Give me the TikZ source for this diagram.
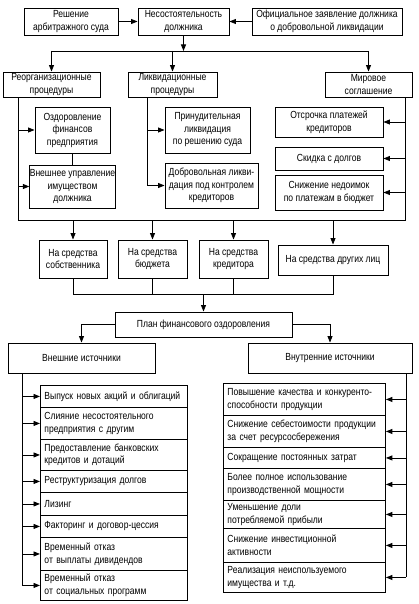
\documentclass[tikz,border=0pt]{standalone}
\usepackage{fontspec}
\setmainfont{Liberation Sans}[FakeStretch=0.83]
\usetikzlibrary{arrows.meta}
\begin{document}
\begin{tikzpicture}[x=1pt,y=-1pt,
  every path/.style={line width=0.9pt},
  box/.style={draw, line width=0.9pt, inner sep=0pt, align=center, font=\fontsize{10.3}{12.5}\selectfont},
  row/.style={draw, line width=0.9pt, inner xsep=4pt, inner ysep=0pt, align=left, anchor=north west, font=\fontsize{10.3}{12.5}\selectfont},
  arr/.style={-{Triangle[length=6.5pt,width=5pt]}}]
\useasboundingbox (0,0) rectangle (418,604);
% top row
\node[box, minimum width=94pt, minimum height=27pt] (resh) at (71,21.5) {Решение\\арбитражного суда};
\node[box, minimum width=91pt, minimum height=27pt] (nes) at (183.5,21.5) {Несостоятельность\\должника};
\node[box, minimum width=150pt, minimum height=27pt] (ofic) at (327,21.5) {Официальное заявление должника\\о добровольной ликвидации};
\draw[arr] (resh.east) -- (nes.west);
\draw[arr] (ofic.west) -- (nes.east);
% second row
\node[box, minimum width=97pt, minimum height=25pt] (reorg) at (51.5,84.5) {Реорганизационные\\процедуры};
\node[box, minimum width=89pt, minimum height=25pt] (likv) at (172.5,84.5) {Ликвидационные\\процедуры};
\node[box, minimum width=87pt, minimum height=25pt] (mir) at (368.5,84.5) {Мировое\\соглашение};
\coordinate (bus) at (0,51);
\draw[arr] (nes.south) -- (nes.south |- bus);
\draw (reorg.north |- bus) -- (mir.north |- bus);
\draw[arr] (reorg.north |- bus) -- (reorg.north);
\draw[arr] (likv.north |- bus) -- (likv.north);
\draw[arr] (mir.north |- bus) -- (mir.north);
% reorganization
\node[box, minimum width=75pt, minimum height=46pt] (ozd) at (72.5,130) {Оздоровление\\финансов\\предприятия};
\node[box, minimum width=75pt, minimum height=43pt] (vnu) at (72.5,186.5) {Внешнее управление\\имуществом\\должника};
\draw (ozd.south) -- (vnu.north);
% liquidation
\node[box, minimum width=85pt, minimum height=46pt] (prin) at (207.5,130) {Принудительная\\ликвидация\\по решению суда};
\node[box, minimum width=93pt, minimum height=45pt] (dobr) at (211.5,185.5) {Добровольная ликви-\\дация под контролем\\кредиторов};
% settlement
\node[box, minimum width=108pt, minimum height=30pt] (ots) at (329,122) {Отсрочка платежей\\кредиторов};
\node[box, minimum width=108pt, minimum height=23pt] (skid) at (329,158.5) {Скидка с долгов};
\node[box, minimum width=108pt, minimum height=35pt] (sniz) at (329,192.5) {Снижение недоимок\\по платежам в бюджет};
% frame lines
\coordinate (lx) at (18,0);
\coordinate (rx) at (405,0);
\coordinate (bot) at (0,220);
\coordinate (lq) at (147,0);
\draw (reorg.south -| lx) -- (lx |- bot) -- (rx |- bot) -- (mir.south -| rx);
\draw[arr] (ozd.west -| lx) -- (ozd.west);
\draw[arr] (vnu.west -| lx) -- (vnu.west);
\draw[arr] (likv.south -| lq) -- (dobr.west -| lq) -- (dobr.west);
\draw[arr] (prin.west -| lq) -- (prin.west);
\draw[arr] (ots.east -| rx) -- (ots.east);
\draw[arr] (skid.east -| rx) -- (skid.east);
\draw[arr] (sniz.east -| rx) -- (sniz.east);
% funding
\node[box, minimum width=68pt, minimum height=38pt] (ns1) at (73,259) {На средства\\собственника};
\node[box, minimum width=69pt, minimum height=38pt] (ns2) at (152.5,259) {На средства\\бюджета};
\node[box, minimum width=69pt, minimum height=38pt] (ns3) at (233.5,259) {На средства\\кредитора};
\node[box, minimum width=110pt, minimum height=30pt] (ns4) at (333,260) {На средства других лиц};
\draw[arr] (ns1.north |- bot) -- (ns1.north);
\draw[arr] (ns2.north |- bot) -- (ns2.north);
\draw[arr] (ns3.north |- bot) -- (ns3.north);
\draw[arr] (ns4.north |- bot) -- (ns4.north);
\coordinate (bus2) at (0,294);
\draw (ns1.south) -- (ns1.south |- bus2) -- (ns4.south |- bus2) -- (ns4.south);
\draw (ns2.south) -- (ns2.south |- bus2);
\draw (ns3.south) -- (ns3.south |- bus2);
% plan
\node[box, minimum width=177pt, minimum height=25pt] (plan) at (203.5,324.5) {План финансового оздоровления};
\draw[arr] (plan.north |- bus2) -- (plan.north);
\node[box, minimum width=147pt, minimum height=30pt] (ext) at (81.5,358) {Внешние источники};
\node[box, minimum width=164pt, minimum height=30pt] (int) at (330,358) {Внутренние источники};
\draw[arr] (plan.west) -- (ext.north |- plan.west) -- (ext.north);
\draw[arr] (plan.east) -- (int.north |- plan.east) -- (int.north);
% external list
\node[row, minimum width=147pt, minimum height=22pt, text width=139pt] (e1) at (40,385) {Выпуск новых акций и облигаций};
\node[row, minimum width=147pt, minimum height=32pt, text width=139pt] (e2) at (40,407) {Слияние несостоятельного\\предприятия с другим};
\node[row, minimum width=147pt, minimum height=31pt, text width=139pt] (e3) at (40,439) {Предоставление банковских\\кредитов и дотаций};
\node[row, minimum width=147pt, minimum height=22pt, text width=139pt] (e4) at (40,470) {Реструктуризация долгов};
\node[row, minimum width=147pt, minimum height=23pt, text width=139pt] (e5) at (40,492) {Лизинг};
\node[row, minimum width=147pt, minimum height=22pt, text width=139pt] (e6) at (40,515) {Факторинг и договор-цессия};
\node[row, minimum width=147pt, minimum height=33pt, text width=139pt] (e7) at (40,537) {Временный отказ\\от выплаты дивидендов};
\node[row, minimum width=147pt, minimum height=30pt, text width=139pt] (e8) at (40,570) {Временный отказ\\от социальных программ};
\coordinate (ex) at (22,0);
\draw (ext.south -| ex) -- (e8.west -| ex);
\foreach \n in {e1,e2,e3,e4,e5,e6,e7,e8} \draw[arr] (\n.west -| ex) -- (\n.west);
% internal list
\node[row, minimum width=162pt, minimum height=32pt, text width=154pt] (i1) at (223,383) {Повышение качества и конкуренто-\\способности продукции};
\node[row, minimum width=162pt, minimum height=32pt, text width=154pt] (i2) at (223,415) {Снижение себестоимости продукции\\за счет ресурсосбережения};
\node[row, minimum width=162pt, minimum height=21pt, text width=154pt] (i3) at (223,447) {Сокращение постоянных затрат};
\node[row, minimum width=162pt, minimum height=32pt, text width=154pt] (i4) at (223,468) {Более полное использование\\производственной мощности};
\node[row, minimum width=162pt, minimum height=28pt, text width=154pt] (i5) at (223,500) {Уменьшение доли\\потребляемой прибыли};
\node[row, minimum width=162pt, minimum height=34pt, text width=154pt] (i6) at (223,528) {Снижение инвестиционной\\активности};
\node[row, minimum width=162pt, minimum height=30pt, text width=154pt] (i7) at (223,562) {Реализация неиспользуемого\\имущества и т.д.};
\coordinate (ix) at (406,0);
\draw (int.south -| ix) -- (i7.east -| ix);
\foreach \n in {i1,i2,i3,i4,i5,i6,i7} \draw[arr] (\n.east -| ix) -- (\n.east);
\end{tikzpicture}
\end{document}
